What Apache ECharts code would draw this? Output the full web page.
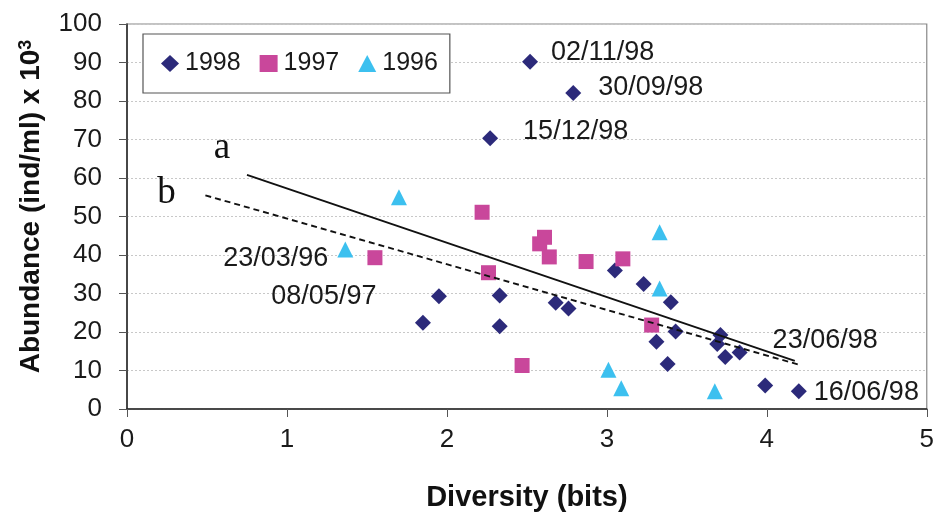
<!DOCTYPE html>
<html><head><meta charset="utf-8">
<script src="https://cdn.jsdelivr.net/npm/echarts@6/dist/echarts.min.js"></script>
<style>html,body{margin:0;padding:0;background:#fff}#c{width:937px;height:517px}</style>
</head><body><div id="c"></div>
<script>
// ---- data ----
const xTicks = [0, 1, 2, 3, 4, 5];
const yTicks = [0, 10, 20, 30, 40, 50, 60, 70, 80, 90, 100];
const seriesNames = ['1998', '1997', '1996'];

const x1998 = [2.52, 2.79, 2.27, 1.95, 1.85, 2.33, 2.33, 2.68, 2.76, 3.05, 3.23, 3.40, 3.43, 3.31, 3.38, 3.71, 3.69, 3.74, 3.83, 3.99, 4.20];
const y1998 = [90.2, 82.1, 70.3, 29.3, 22.4, 29.5, 21.5, 27.6, 26.1, 36.0, 32.5, 27.7, 20.1, 17.5, 11.7, 19.2, 16.9, 13.5, 14.7, 6.1, 4.6];
const lab1998 = ['02/11/98', '30/09/98', '15/12/98', '', '', '', '', '', '', '', '', '', '', '', '', '', '', '', '23/06/98', '', '16/06/98'];

const x1997 = [1.55, 2.22, 2.26, 2.47, 2.58, 2.61, 2.64, 2.87, 3.10, 3.28];
const y1997 = [39.3, 51.1, 35.4, 11.3, 42.9, 44.6, 39.5, 38.3, 39.0, 21.8];
const lab1997 = ['08/05/97', '', '', '', '', '', '', '', '', ''];

const x1996 = [1.70, 1.365, 3.33, 3.33, 3.01, 3.09, 3.675];
const y1996 = [55.0, 41.4, 45.9, 31.3, 10.2, 5.4, 4.6];
const lab1996 = ['', '23/03/96', '', '', '', '', ''];

const lineNames = ['a', 'b'];
const lineAx = [0.75, 4.175];
const lineAy = [60.8, 12.5];
const lineBx = [0.49, 4.21];
const lineBy = [55.5, 11.4];

// ---- styling ----
const FONT = '"Liberation Sans", Arial, sans-serif';
const colors = { '1998': '#2c2a7a', '1997': '#c9479b', '1996': '#3cc0ef' };
const symbols = { '1998': 'diamond', '1997': 'rect', '1996': 'triangle' };
const sizes = { '1998': [16, 16], '1997': 15, '1996': 16 };
const placement = {
  '02/11/98': { position: 'right', offset: [8, -9] },
  '30/09/98': { position: 'right', offset: [12, -5] },
  '15/12/98': { position: 'right', offset: [20, -7] },
  '23/06/98': { position: 'right', offset: [20, -12] },
  '16/06/98': { position: 'right', offset: [2, 1] },
  '23/03/96': { position: 'left', offset: [-4, 9] },
  '08/05/97': { position: 'left', offset: [14, 39] }
};

function buildData(xs, ys, labs) {
  return xs.map((x, i) => {
    const item = { value: [x, ys[i]] };
    if (labs[i]) {
      const p = placement[labs[i]];
      item.label = {
        show: true, formatter: labs[i], position: p.position, offset: p.offset,
        color: '#1a1a1a', fontSize: 27, fontFamily: FONT
      };
    }
    return item;
  });
}

function scatter(name, xs, ys, labs) {
  return {
    name, type: 'scatter', symbol: symbols[name], symbolSize: sizes[name],
    itemStyle: { color: colors[name], opacity: 1 },
    data: buildData(xs, ys, labs), z: 3,
    emphasis: { disabled: true }
  };
}

function fitLine(name, xs, ys, dashed, labOffset) {
  return {
    name: 'line-' + name, type: 'line', symbol: 'circle', symbolSize: 0, showSymbol: true,
    lineStyle: { color: '#111', width: 1.9, type: dashed ? [6, 4] : 'solid' },
    itemStyle: { color: '#111' },
    z: 5, silent: true, legendHoverLink: false,
    data: xs.map((x, i) => i === 0 ? {
      value: [x, ys[i]],
      label: { show: true, formatter: name, position: 'inside', offset: labOffset,
        fontFamily: '"Liberation Serif", "Times New Roman", serif', fontSize: 37, color: '#111' }
    } : { value: [x, ys[i]] })
  };
}

const chart = echarts.init(document.getElementById('c'), null, { renderer: 'canvas' });
chart.setOption({
  animation: false,
  backgroundColor: '#fff',
  grid: { left: 127, right: 10, top: 24, bottom: 106, show: true, borderColor: '#888', borderWidth: 1.2, backgroundColor: 'transparent' },
  legend: {
    data: seriesNames.map(n => ({ name: n, icon: n === '1998' ? 'diamond' : n === '1997' ? 'rect' : 'triangle' })),
    left: 143, top: 34, orient: 'horizontal',
    padding: [17, 12, 17, 18], itemGap: 19, itemWidth: 18, itemHeight: 17,
    borderColor: '#555', borderWidth: 1.2, backgroundColor: '#fff',
    textStyle: { fontFamily: FONT, fontSize: 25, color: '#1a1a1a', padding: [0, 0, 0, 1] },
    selectedMode: false
  },
  xAxis: {
    type: 'value', min: xTicks[0], max: xTicks[xTicks.length - 1], interval: 1,
    name: 'Diversity (bits)', nameLocation: 'middle', nameGap: 74,
    nameTextStyle: { fontFamily: FONT, fontSize: 29, fontWeight: 'bold', color: '#111' },
    axisLine: { onZero: false, lineStyle: { color: '#222', width: 1.5 } },
    axisTick: { show: true, length: 8, lineStyle: { color: '#555' } },
    axisLabel: { margin: 18, fontFamily: FONT, fontSize: 26, color: '#1a1a1a' },
    splitLine: { show: false }
  },
  yAxis: {
    type: 'value', min: yTicks[0], max: yTicks[yTicks.length - 1], interval: 10,
    name: 'Abundance (ind/ml) x 10{sup|3}', nameLocation: 'middle', nameGap: 82,
    nameTextStyle: { fontFamily: FONT, fontSize: 28, fontWeight: 'bold', color: '#111',
      padding: [0, 0, 0, 20],
      rich: { sup: { fontFamily: FONT, fontSize: 18, fontWeight: 'bold', color: '#111', verticalAlign: 'top', padding: [0, 0, 10, 0] } } },
    axisLine: { onZero: false, lineStyle: { color: '#222', width: 1.5 } },
    axisTick: { show: true, length: 8, lineStyle: { color: '#555' } },
    axisLabel: { margin: 25, fontFamily: FONT, fontSize: 26, color: '#1a1a1a' },
    splitLine: { show: true, lineStyle: { color: '#c8c8c8', width: 1, type: [2, 2] } }
  },
  series: [
    scatter('1998', x1998, y1998, lab1998),
    scatter('1997', x1997, y1997, lab1997),
    scatter('1996', x1996, y1996, lab1996),
    fitLine(lineNames[0], lineAx, lineAy, false, [-25, -27]),
    fitLine(lineNames[1], lineBx, lineBy, true, [-39, -2])
  ]
});
</script>
</body></html>
